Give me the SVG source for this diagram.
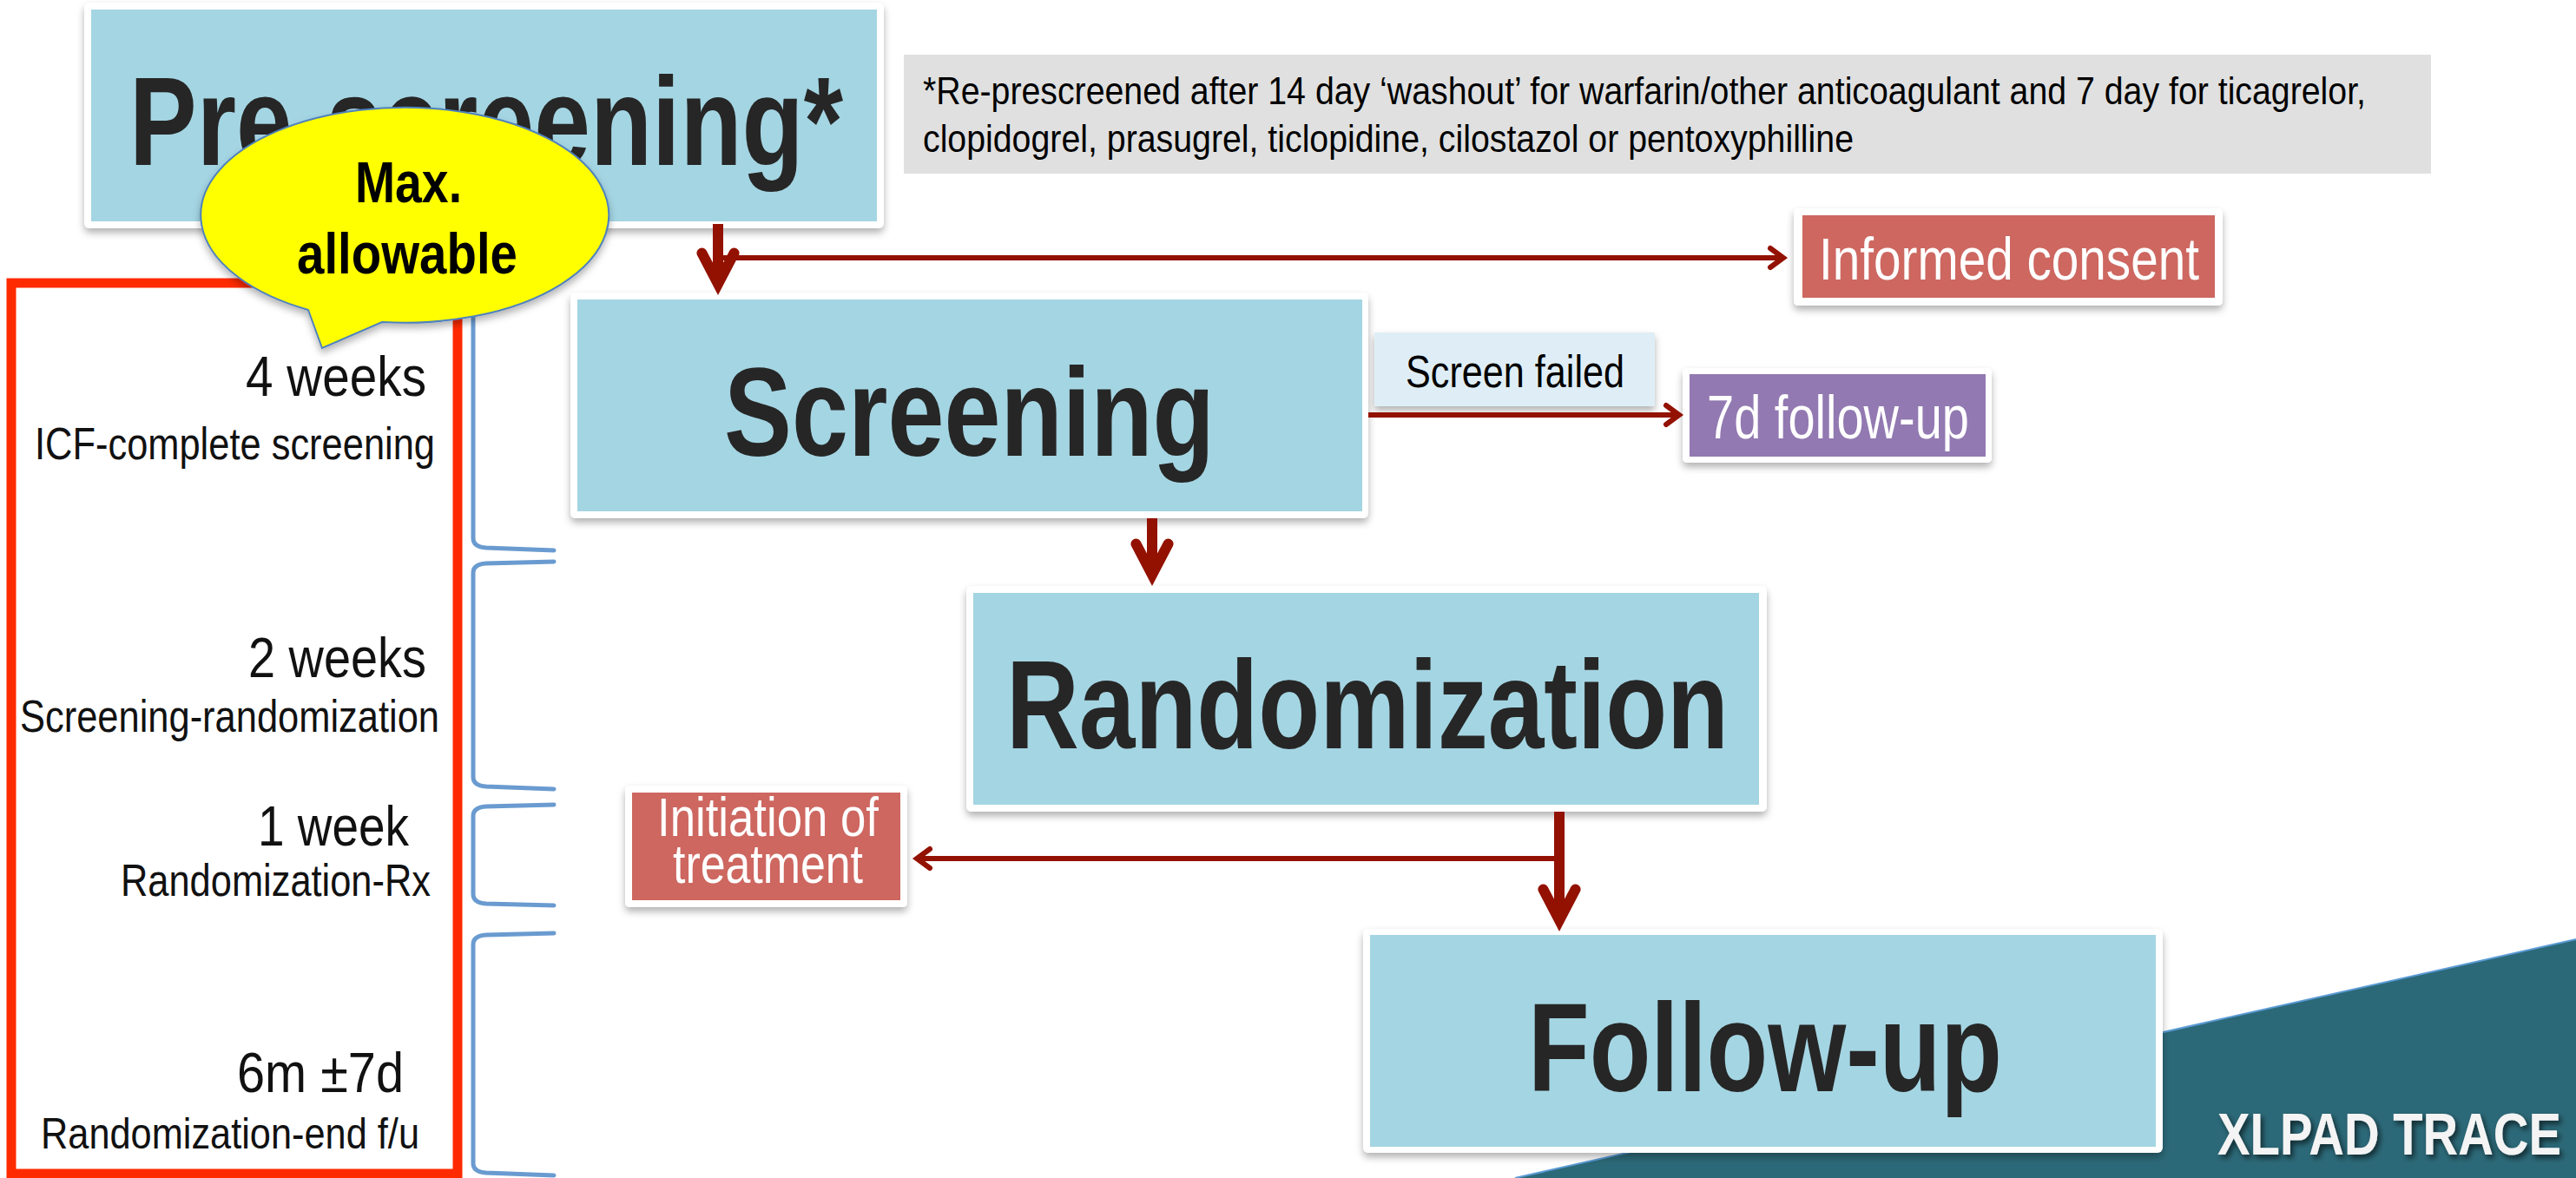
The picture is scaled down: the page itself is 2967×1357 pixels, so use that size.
<svg xmlns="http://www.w3.org/2000/svg" width="2967" height="1357" viewBox="0 0 2967 1357">
<defs>
<style>
.frame{fill:#ffffff;filter:url(#sh)}
.blue{fill:#a4d5e3}
.big{font-family:"Liberation Sans Narrow","Liberation Sans",Arial,sans-serif;font-weight:bold;font-size:145px;fill:#262626}
.nar{font-family:"Liberation Sans Narrow","Liberation Sans",Arial,sans-serif}
.wt{fill:#ffffff}
.lab{font-family:"Liberation Sans",Arial,sans-serif;fill:#111111}
.conn{fill:none;stroke:#931100}
.thick{stroke-width:12}
.thin{stroke-width:6}
.brace{fill:none;stroke:#6a9bd0;stroke-width:5;stroke-linecap:round}
</style>
<filter id="sh" x="-10%" y="-10%" width="120%" height="130%">
<feDropShadow dx="0" dy="5" stdDeviation="4" flood-color="#000" flood-opacity="0.3"/>
</filter>
<filter id="tsh" x="-10%" y="-20%" width="130%" height="150%">
<feDropShadow dx="3" dy="4" stdDeviation="3" flood-color="#000" flood-opacity="0.6"/>
</filter>
<marker id="bigHead" markerUnits="userSpaceOnUse" markerWidth="60" markerHeight="60" viewBox="-60 -30 60 60" refX="-20" refY="0" orient="auto" overflow="visible">
<path d="M0,0 L-46,24 A6,6 0 0 1 -51.6,13.4 L-26,0 L-51.6,-13.4 A6,6 0 0 1 -46,-24 Z" fill="#931100"/>
</marker>
<marker id="smallHead" markerUnits="userSpaceOnUse" markerWidth="34" markerHeight="34" viewBox="-26 -17 34 34" refX="-6" refY="0" orient="auto" overflow="visible">
<polyline points="-18,-11 -3,0 -18,11" fill="none" stroke="#931100" stroke-width="6" stroke-linecap="round" stroke-linejoin="miter"/>
</marker>
</defs>

<rect width="2967" height="1357" fill="#ffffff"/>

<g id="background">
<polygon points="1745,1357 2967,1082 2967,1357" fill="#2c6978"/>
<line x1="1745" y1="1357" x2="2967" y2="1082" stroke="#5b9bd5" stroke-width="2"/>
</g>

<g id="note">
<rect x="1041" y="63" width="1759" height="137" fill="#e0e0e0"/>
<text class="nar" font-size="44" fill="#000"><tspan x="1063" y="120" textLength="1662" lengthAdjust="spacingAndGlyphs">*Re-prescreened after 14 day ‘washout’ for warfarin/other anticoagulant and 7 day for ticagrelor,</tspan><tspan x="1063" y="175" textLength="1072" lengthAdjust="spacingAndGlyphs">clopidogrel, prasugrel, ticlopidine, cilostazol or pentoxyphilline</tspan></text>
</g>

<g id="node-prescreening">
<rect class="frame" x="97" y="3" width="921" height="260" rx="6"/>
<rect class="blue" x="105" y="11" width="905" height="244"/>
<text class="big" x="149" y="190" textLength="822" lengthAdjust="spacingAndGlyphs">Pre-screening*</text>
</g>

<g id="node-screening">
<rect class="frame" x="657" y="337" width="919" height="260" rx="6"/>
<rect class="blue" x="665" y="345" width="904" height="244"/>
<text class="big" x="834" y="525" textLength="565" lengthAdjust="spacingAndGlyphs">Screening</text>
</g>

<g id="node-randomization">
<rect class="frame" x="1113" y="675" width="922" height="260" rx="6"/>
<rect class="blue" x="1121" y="683" width="905" height="244"/>
<text class="big" x="1159" y="862" textLength="832" lengthAdjust="spacingAndGlyphs">Randomization</text>
</g>

<g id="node-followup">
<rect class="frame" x="1570" y="1070" width="921" height="258" rx="6"/>
<rect class="blue" x="1578" y="1077" width="905" height="244"/>
<text class="big" x="1760" y="1257" textLength="546" lengthAdjust="spacingAndGlyphs">Follow-up</text>
</g>

<g id="node-informed-consent">
<rect class="frame" x="2066" y="240" width="494" height="112" rx="5"/>
<rect x="2076" y="248" width="475" height="95" fill="#cd6760"/>
<text class="nar wt" x="2095" y="322" font-size="68" textLength="438" lengthAdjust="spacingAndGlyphs">Informed consent</text>
</g>

<g id="node-7d-followup">
<rect class="frame" x="1938" y="424" width="356" height="109" rx="5"/>
<rect x="1946" y="431" width="341" height="95" fill="#9279b1"/>
<text class="nar wt" x="1966" y="505" font-size="70" textLength="302" lengthAdjust="spacingAndGlyphs">7d follow-up</text>
</g>

<g id="node-initiation">
<rect class="frame" x="720" y="905" width="325" height="140" rx="5"/>
<rect x="728" y="913" width="309" height="124" fill="#cd6760"/>
<text class="nar wt" font-size="63"><tspan x="757" y="963" textLength="255" lengthAdjust="spacingAndGlyphs">Initiation of</tspan><tspan x="775" y="1017" textLength="219" lengthAdjust="spacingAndGlyphs">treatment</tspan></text>
</g>

<g id="label-screen-failed">
<rect x="1583" y="383" width="323" height="85" fill="#dfeef6" filter="url(#sh)"/>
<text class="nar" x="1619" y="446" font-size="52" fill="#000" textLength="252" lengthAdjust="spacingAndGlyphs">Screen failed</text>
</g>

<g id="connectors">
<path class="conn thick" d="M827,258 V320" marker-end="url(#bigHead)"/>
<path class="conn thin" d="M833,297 H2051" marker-end="url(#smallHead)"/>
<path class="conn thin" d="M1576,478 H1931" marker-end="url(#smallHead)"/>
<path class="conn thick" d="M1327,597 V655" marker-end="url(#bigHead)"/>
<path class="conn thick" d="M1796,935 V1053" marker-end="url(#bigHead)"/>
<path class="conn thin" d="M1800,989 H1059" marker-end="url(#smallHead)"/>
</g>

<g id="timeline">
<rect x="13" y="326" width="514" height="1026" fill="none" stroke="#ff2a00" stroke-width="11"/>
<path class="brace" d="M545,340 V620 Q545,630 560,631 L638,634"/>
<path class="brace" d="M638,647 L560,649 Q545,650 545,660 V895 Q545,905 560,906 L638,909"/>
<path class="brace" d="M638,927 L560,929 Q545,930 545,940 V1030 Q545,1040 560,1041 L638,1043"/>
<path class="brace" d="M638,1075 L560,1077 Q545,1078 545,1088 V1340 Q545,1350 560,1351 L638,1354"/>
<text class="lab" font-size="64"><tspan x="283" y="456" textLength="208" lengthAdjust="spacingAndGlyphs">4 weeks</tspan></text>
<text class="lab" font-size="52"><tspan x="40" y="529" textLength="461" lengthAdjust="spacingAndGlyphs">ICF-complete screening</tspan></text>
<text class="lab" font-size="64"><tspan x="286" y="780" textLength="205" lengthAdjust="spacingAndGlyphs">2 weeks</tspan></text>
<text class="lab" font-size="52"><tspan x="23" y="843" textLength="483" lengthAdjust="spacingAndGlyphs">Screening-randomization</tspan></text>
<text class="lab" font-size="64"><tspan x="297" y="974" textLength="174" lengthAdjust="spacingAndGlyphs">1 week</tspan></text>
<text class="lab" font-size="52"><tspan x="139" y="1032" textLength="357" lengthAdjust="spacingAndGlyphs">Randomization-Rx</tspan></text>
<text class="lab" font-size="64"><tspan x="273" y="1258" textLength="192" lengthAdjust="spacingAndGlyphs">6m ±7d</tspan></text>
<text class="lab" font-size="50"><tspan x="47" y="1323" textLength="436" lengthAdjust="spacingAndGlyphs">Randomization-end f/u</tspan></text>
</g>

<g id="callout-max-allowable">
<path d="M355,357 L371,401 L440,371 A235,124 0 1 0 355,357 Z" fill="#ffff00" stroke="#4f81bd" stroke-width="2" filter="url(#sh)"/>
<text class="nar" font-weight="bold" font-size="67" fill="#000"><tspan x="409" y="233" textLength="123" lengthAdjust="spacingAndGlyphs">Max.</tspan><tspan x="342" y="315" textLength="254" lengthAdjust="spacingAndGlyphs">allowable</tspan></text>
</g>

<g id="brand">
<text class="nar" x="2554" y="1330" font-weight="bold" font-size="68" fill="#f4f4f4" filter="url(#tsh)" textLength="396" lengthAdjust="spacingAndGlyphs">XLPAD TRACE</text>
</g>
</svg>
